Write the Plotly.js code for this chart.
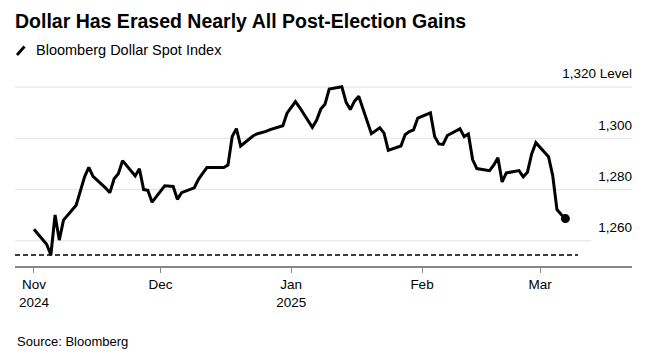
<!DOCTYPE html>
<html><head><meta charset="utf-8">
<script src="https://cdn.plot.ly/plotly-3.0.1.min.js"></script>
<style>html,body{margin:0;padding:0;background:#fff}#chart{width:659px;height:355px}</style>
</head><body><div id="chart"></div>
<script>
const dates = [
'2024-11-01','2024-11-04','2024-11-05','2024-11-06','2024-11-07','2024-11-08',
'2024-11-11','2024-11-12','2024-11-13','2024-11-14','2024-11-15',
'2024-11-18','2024-11-19','2024-11-20','2024-11-21','2024-11-22',
'2024-11-25','2024-11-26','2024-11-27','2024-11-28','2024-11-29',
'2024-12-02','2024-12-03','2024-12-04','2024-12-05','2024-12-06',
'2024-12-09','2024-12-10','2024-12-11','2024-12-12','2024-12-13',
'2024-12-16','2024-12-17','2024-12-18','2024-12-19','2024-12-20',
'2024-12-23','2024-12-24','2024-12-26','2024-12-27','2024-12-30','2024-12-31',
'2025-01-02','2025-01-03','2025-01-06','2025-01-07','2025-01-08','2025-01-09','2025-01-10',
'2025-01-13','2025-01-14','2025-01-15','2025-01-16','2025-01-17',
'2025-01-20','2025-01-21','2025-01-22','2025-01-23','2025-01-24',
'2025-01-27','2025-01-28','2025-01-29','2025-01-30','2025-01-31',
'2025-02-03','2025-02-04','2025-02-05','2025-02-06','2025-02-07',
'2025-02-10','2025-02-11','2025-02-12','2025-02-13','2025-02-14',
'2025-02-17','2025-02-18','2025-02-19','2025-02-20','2025-02-21',
'2025-02-24','2025-02-25','2025-02-26','2025-02-27','2025-02-28',
'2025-03-03','2025-03-04','2025-03-05','2025-03-06','2025-03-07'
];
const levels = [
1264.5,1258.7,1254.5,1270.1,1260.3,1268.1,
1273.9,1280.0,1285.0,1288.7,1285.2,
1280.6,1278.8,1284.2,1286.2,1291.3,
1285.3,1288.1,1280.0,1279.7,1275.1,
1281.5,1281.4,1281.2,1276.2,1278.8,
1280.7,1284.0,1286.3,1288.6,1288.6,
1288.6,1289.6,1300.7,1303.8,1297.0,
1301.0,1301.8,1302.7,1303.4,1304.9,1309.8,
1314.3,1312.0,1304.3,1307.0,1311.4,1313.3,1319.2,
1320.1,1314.1,1311.2,1314.5,1316.4,
1301.8,1303.0,1304.1,1302.0,1295.3,
1297.0,1301.4,1302.6,1303.3,1307.9,
1309.9,1300.7,1297.8,1297.6,1301.1,
1303.7,1300.7,1301.7,1291.7,1288.2,
1287.4,1289.5,1292.4,1283.0,1286.5,
1287.4,1285.0,1286.8,1293.9,1298.3,
1292.8,1285.4,1272.2,1270.3,1268.7
];
const preElectionLevel = 1254.5;
const yTickVals = [1260, 1280, 1300, 1320];
const yTickText = ['1,260', '1,280', '1,300', '1,320 Level'];
const xTickVals = ['2024-11-01', '2024-12-01', '2025-01-01', '2025-02-01', '2025-03-01'];
const xTickText = ['Nov<br>2024', 'Dec', 'Jan<br>2025', 'Feb', 'Mar'];
const seriesName = 'Bloomberg Dollar Spot Index';
const chartTitle = 'Dollar Has Erased Nearly All Post-Election Gains';
const sourceText = 'Source: Bloomberg';

const FONT = 'Liberation Sans, Arial, Helvetica, sans-serif';
const last = dates.length - 1;

const traces = [
  {x: dates, y: levels, type: 'scatter', mode: 'lines', name: seriesName,
   line: {color: '#000', width: 3, shape: 'linear'}, hoverinfo: 'skip'},
  {x: [dates[last]], y: [levels[last]], type: 'scatter', mode: 'markers',
   marker: {color: '#000', size: 9}, hoverinfo: 'skip'}
];

// horizontal grid lines at the y tick values (lowest one is shorter, as in the source)
const gridShapes = yTickVals.map((v, i) => ({
  type: 'line', layer: 'below', xref: 'paper', x0: 0, x1: i === 0 ? 0.9335 : 1,
  yref: 'y', y0: v, y1: v, line: {color: '#e0e0e0', width: 1}
}));

const layout = {
  width: 659, height: 355,
  margin: {l: 15, r: 27, t: 60, b: 88.5, pad: 0},
  paper_bgcolor: '#fff', plot_bgcolor: '#fff',
  showlegend: false,
  font: {family: FONT, color: '#000', size: 13.5},
  title: {
    text: chartTitle, xref: 'container', x: 15 / 659, xanchor: 'left',
    yref: 'container', y: 1 - 21 / 355, yanchor: 'middle', pad: {l: 0, t: 0, r: 0, b: 0},
    font: {family: FONT, size: 19.5, weight: 700, color: '#000'}
  },
  xaxis: {
    type: 'date', range: ['2024-10-27 12:00', '2025-03-22 19:00'],
    tickmode: 'array', tickvals: xTickVals, ticktext: xTickText,
    ticks: 'outside', ticklen: 5, tickwidth: 1, tickcolor: '#888',
    showline: true, linecolor: '#888', linewidth: 2,
    showgrid: false, zeroline: false, fixedrange: true,
    tickfont: {family: FONT, size: 13.5, color: '#000'}
  },
  yaxis: {
    side: 'right', range: [1250.2, 1330.55],
    tickmode: 'array', tickvals: yTickVals, ticktext: yTickText,
    ticklabelposition: 'inside top', ticks: '', ticklabelshift: -4, ticklabelstandoff: -3,
    showgrid: false, showline: false, zeroline: false, fixedrange: true,
    tickfont: {family: FONT, size: 13.5, color: '#000'}
  },
  shapes: gridShapes.concat([
    {type: 'line', xref: 'paper', x0: 0, x1: 0.9125, yref: 'y',
     y0: preElectionLevel, y1: preElectionLevel,
     line: {color: '#000', width: 1.5, dash: '5px,3px'}},
    {type: 'line', xref: 'paper', x0: 0.0032, x1: 0.0154, yref: 'paper',
     y0: (266.5 - 55) / 206.5, y1: (266.5 - 46.5) / 206.5, line: {color: '#000', width: 2.8}}
  ]),
  annotations: [
    {text: seriesName, xref: 'paper', x: 0.0308, xanchor: 'left',
     yref: 'paper', y: (266.5 - 50) / 206.5, yanchor: 'middle', showarrow: false,
     font: {family: FONT, size: 14.5, color: '#000'}},
    {text: sourceText, xref: 'paper', x: 0, xanchor: 'left',
     yref: 'paper', y: (266.5 - 342) / 206.5, yanchor: 'middle', showarrow: false,
     font: {family: FONT, size: 13, color: '#000'}}
  ]
};

Plotly.newPlot('chart', traces, layout, {displayModeBar: false, staticPlot: true});
</script>
</body></html>
